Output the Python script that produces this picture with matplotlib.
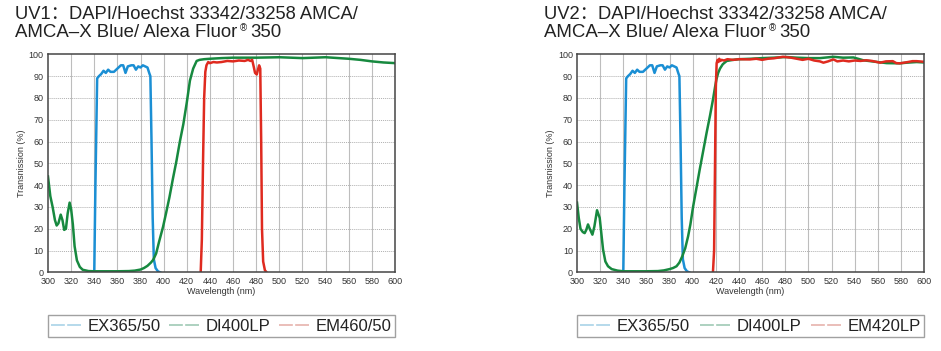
import matplotlib
matplotlib.use("Agg")
import matplotlib.pyplot as plt
from matplotlib.lines import Line2D

plt.rcParams['font.family'] = ['Liberation Sans', 'Noto Sans CJK SC', 'DejaVu Sans']

# ---- data ----
ex_wl = [340, 341, 342.5, 344, 346, 348, 350, 352, 354, 357, 360, 363, 365, 367, 369, 372,
         374, 376, 378, 380, 382, 384, 386, 387.5, 388.5, 389.5, 390.5, 391.5, 393, 395, 397]
ex_t = [0, 40, 89, 90, 91, 92.5, 91.5, 93, 92, 92, 93.5, 95, 95, 91.5, 94.5, 95,
        95, 93, 94.5, 94, 95, 94.5, 94, 91.5, 90, 60, 25, 6, 2, 0.5, 0]

di1_wl = [300, 302, 304, 306, 307.5, 309, 311, 312.5, 314, 315.5, 317, 318.7, 320, 321.5, 323,
          325, 327.5, 330, 335, 340, 350, 360, 370, 375, 380, 383, 386, 389, 391, 393.5, 396,
          399.5, 402, 405, 408, 411, 414, 417, 420, 422.7, 425.5, 428.5, 431, 435, 440, 450,
          460, 480, 500, 520, 540, 560, 570, 580, 590, 600]
di1_t = [44, 35, 30, 24, 21.5, 22.5, 26.5, 24, 19.5, 20, 27, 32, 29, 22, 12,
         5.5, 2.5, 1.2, 0.6, 0.5, 0.5, 0.5, 0.6, 0.8, 1.3, 2, 3, 4.5, 5.8, 8.7, 14,
         21, 27, 34.5, 43, 51, 60, 68, 78, 88, 93.5, 97, 97.5, 97.8, 98, 98.3,
         98.5, 98.5, 98.7, 98.3, 98.7, 98, 97.5, 96.8, 96.3, 96]

em1_wl = [432, 433, 434, 435, 436, 437, 438.5, 440, 443, 446, 450, 455, 460, 465, 470, 473,
          475, 476.5, 478, 479, 480.5, 481.5, 482.5, 483.5, 484.3, 485, 486, 487.5, 489]
em1_t = [0, 15, 50, 80, 92, 95, 96.5, 96, 96.5, 96.3, 96.5, 97, 96.8, 97.2, 97, 97.5,
         97, 97.5, 94, 91.5, 90.8, 93, 95, 93.5, 60, 20, 5, 1, 0]

di2_wl = [300, 301.5, 303, 305, 306.6, 308, 309.5, 311, 313.3, 315, 317.3, 319.6, 321, 322.5,
          324.5, 326.8, 330, 335, 340, 350, 360, 370, 375, 380, 383, 386, 388.5, 391, 393.5,
          396, 398, 400.3, 403, 406, 409, 412, 415, 417.6, 419.3, 420.5, 422, 423.6, 426,
          429.4, 435, 440, 450, 460, 470, 481, 490, 500, 510, 521.6, 530, 539, 547.5, 555,
          567.7, 579, 585, 593.6, 600]
di2_t = [32, 25, 20, 18.5, 18, 19.5, 22, 20, 17.3, 21, 28.5, 25, 18, 10.5,
         5, 2.8, 1.5, 0.8, 0.5, 0.5, 0.5, 0.6, 0.9, 1.5, 2, 2.8, 4.5, 7.4, 11,
         16.5, 22, 30, 38, 47, 55.5, 64, 72, 79.5, 85, 88.5, 91.5, 93.5, 95.5,
         97, 97.5, 97.8, 98, 98.3, 98.5, 98.8, 98.5, 98.3, 98.3, 98.9, 98.5, 98.6, 97.3, 96.8,
         96, 95.9, 96.2, 96.5, 96.3]

em2_wl = [417.5, 418.5, 419.3, 420, 420.7, 421.5, 422.3, 423, 424, 425, 427, 430, 435, 440,
          449.5, 455, 460, 465, 470, 478, 485, 490, 495, 500, 505, 510, 513, 517, 521.6, 525,
          530, 535, 540, 545, 550, 555, 562, 567, 573, 576, 579, 585, 590, 593.6, 600]
em2_t = [0, 10, 50, 85, 96, 97.5, 96.5, 98, 97, 97.5, 97.2, 97.8, 97.5, 97.8,
         97.7, 98, 97.5, 98, 98.2, 98.9, 98.5, 98, 97.5, 98, 97.2, 96.8, 96.2, 96.8, 97.7, 96.8,
         97.2, 96.8, 97.2, 97, 97.3, 97, 96.2, 96.8, 96.9, 96, 95.9, 96.4, 96.9, 96.9, 96.6]

titles = [("UV1：DAPI/Hoechst 33342/33258 AMCA/", "AMCA–X Blue/ Alexa Fluor", "®", "350"),
          ("UV2：DAPI/Hoechst 33342/33258 AMCA/", "AMCA–X Blue/ Alexa Fluor", "®", "350")]
labels = [["EX365/50", "DI400LP", "EM460/50"], ["EX365/50", "DI400LP", "EM420LP"]]

BLUE, GREEN, RED = "#1b8fd4", "#17893f", "#df2a1f"
PALE = ["#a9d3e8", "#9fcab5", "#e6b3ad"]

fig = plt.figure(figsize=(9.41, 3.51), dpi=100)
rend = fig.canvas.get_renderer()
W, H = fig.bbox.width, fig.bbox.height


def panel(left, data, title, labs):
    ax = fig.add_axes([left, 0.224, 0.3688, 0.621])
    ax.set_xlim(300, 600)
    ax.set_ylim(0, 100)
    ax.set_xticks(range(300, 601, 20))
    ax.set_yticks(range(0, 101, 10))
    for x in range(320, 600, 20):
        ax.axvline(x, color="#bdbdbd", lw=0.8, zorder=0)
    for y in range(10, 100, 10):
        ax.axhline(y, color="#b0b0b0", lw=0.7, ls=(0, (1, 1)), zorder=0)
    (wb, tb), (wg, tg), (wr, tr) = data
    ax.plot(wb, tb, color=BLUE, lw=1.8)
    ax.plot(wg, tg, color=GREEN, lw=1.8)
    ax.plot(wr, tr, color=RED, lw=1.8)
    for s in ax.spines.values():
        s.set_color("#454545")
        s.set_linewidth(1.1)
    ax.tick_params(length=0, labelsize=6.5, colors="#333333", pad=3)
    ax.set_xlabel("Wavelength (nm)", fontsize=6.5, color="#333333", labelpad=1)
    ax.set_ylabel("Transnission (%)", fontsize=6.5, color="#333333", labelpad=2)
    handles = [Line2D([], [], color=c, lw=1.2, ls=(0, (8.3, 1.4))) for c in PALE]
    leg = ax.legend(handles, labs, loc="upper left", bbox_to_anchor=(0, -0.31, 1, 0.113),
                    mode="expand", ncol=3, borderaxespad=0, fontsize=12, handlelength=1.8,
                    handletextpad=0.4, fancybox=False, frameon=True, borderpad=0.2)
    leg.get_frame().set_edgecolor("#8a8a8a")
    leg.get_frame().set_linewidth(1.0)
    for t in leg.get_texts():
        t.set_color("#222222")

    # two-line title, with a small raised ® mark
    fx = left - 0.035
    y1, y2 = 1 - 19 / H, 1 - 37 / H
    fig.text(fx, y1, title[0], fontsize=13.2, color="#222222", va="baseline")
    t = fig.text(fx, y2, title[1], fontsize=13.4, color="#222222", va="baseline")
    x = t.get_window_extent(rend).x1 / W + 3 / W
    r = fig.text(x, y2 + 6 / H, title[2], fontsize=7, color="#222222", va="baseline")
    x = r.get_window_extent(rend).x1 / W + 3 / W
    fig.text(x, y2, title[3], fontsize=13.4, color="#222222", va="baseline")
    return ax


panel(0.0510, [(ex_wl, ex_t), (di1_wl, di1_t), (em1_wl, em1_t)], titles[0], labels[0])
panel(0.6132, [(ex_wl, ex_t), (di2_wl, di2_t), (em2_wl, em2_t)], titles[1], labels[1])

fig.savefig("out.png", dpi=100, facecolor="white")
